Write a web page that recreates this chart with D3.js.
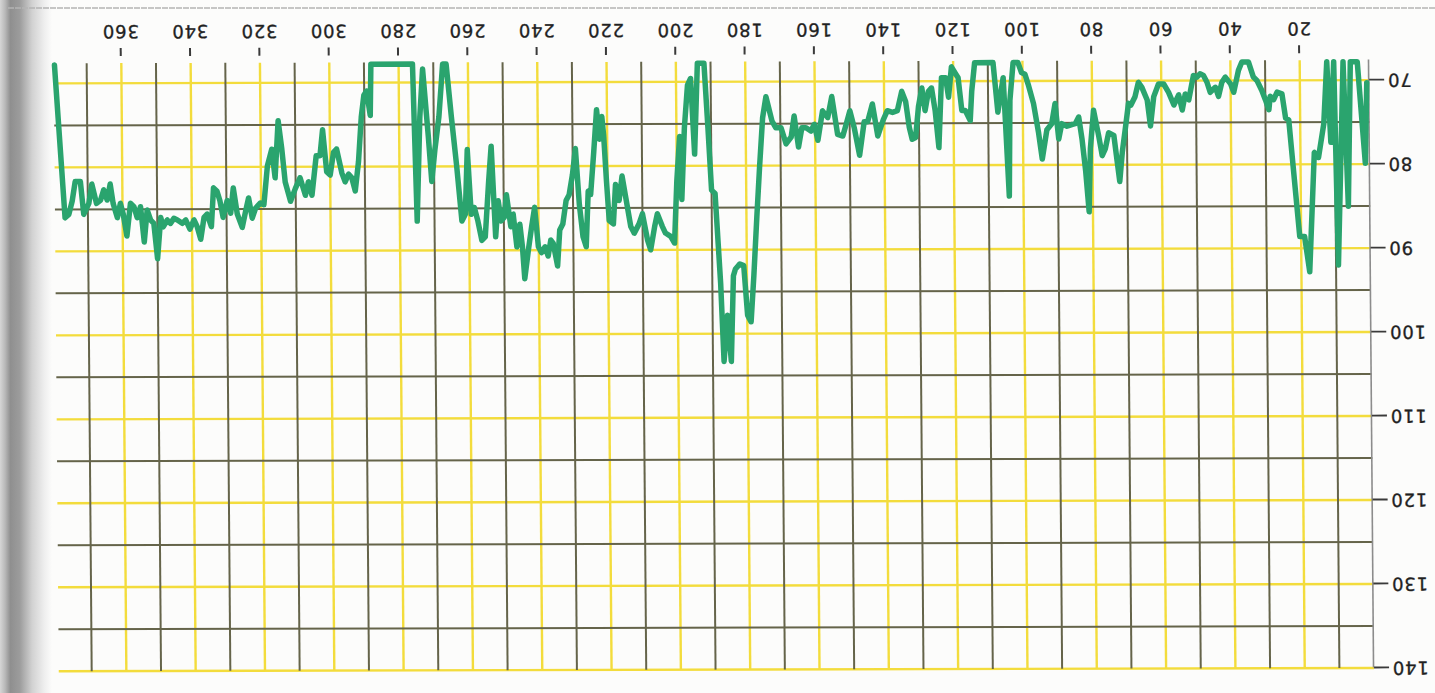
<!DOCTYPE html>
<html>
<head>
<meta charset="utf-8">
<script src="https://cdn.jsdelivr.net/npm/d3@7"></script>
<style>
html,body{margin:0;padding:0;background:#fcfcfb;overflow:hidden}
svg{display:block}
</style>
</head>
<body>
<svg id="chart" width="1435" height="693"></svg>
<script>
// ---- data (read from the scanned, upside-down chart) ----
const days = [0.7,1.3,3.4,5.4,6.3,7.5,9.3,10.2,11.2,12.2,13.2,14.8,16.0,17.6,19.0,20.4,23.3,24.2,25.2,26.6,27.6,28.6,29.0,30.0,31.0,32.4,33.4,34.8,36.7,37.7,39.1,40.0,41.5,42.5,43.5,44.4,45.9,46.8,47.8,48.8,49.7,50.7,52.1,53.1,54.0,55.0,56.4,57.9,59.3,60.8,62.2,63.2,64.1,65.6,66.6,67.6,68.8,69.5,70.5,71.4,72.2,72.9,73.8,75.3,76.3,77.2,78.2,79.6,80.6,81.1,82.0,83.0,83.9,84.9,85.9,87.3,88.8,89.7,90.7,91.7,93.1,94.5,95.5,96.9,98.4,99.3,100.3,101.3,102.7,103.7,104.1,105.1,105.6,106.5,107.2,108.5,113.8,114.7,115.2,116.6,117.6,118.6,119.5,120.5,121.4,122.2,123.4,124.3,125.3,126.3,127.2,128.2,129.1,130.1,131.0,132.0,132.8,133.8,134.9,136.2,137.6,139.1,140.3,141.9,143.4,144.8,145.8,147.2,148.7,149.9,151.0,152.0,153.5,155.1,156.3,157.8,159.2,160.2,161.2,162.6,163.8,164.8,166.0,166.9,168.4,169.8,171.3,172.4,174.1,175.1,176.1,177.0,178.0,178.9,179.9,180.9,182.0,183.3,183.9,184.7,185.7,186.8,187.6,189.0,190.0,190.9,191.9,193.8,194.8,195.8,196.7,197.7,198.6,199.1,200.0,200.8,201.9,203.4,204.3,205.7,206.5,207.7,208.6,210.0,211.0,212.4,213.4,214.8,215.8,216.7,217.7,218.4,219.6,220.3,221.0,221.5,222.2,223.0,223.9,224.9,225.6,226.3,227.2,228.2,229.2,230.1,231.1,232.0,233.0,233.9,234.6,235.8,236.5,237.3,238.2,239.2,240.1,241.1,242.0,243.0,244.1,244.7,245.4,246.3,247.3,248.0,249.2,249.9,250.8,251.6,252.4,253.5,254.3,255.4,256.4,257.5,258.5,259.4,260.4,261.1,262.1,263.5,264.9,266.3,267.3,268.5,269.7,270.7,271.6,273.1,274.0,275.0,276.0,288.0,288.3,289.3,290.1,290.9,291.8,292.8,293.8,294.7,295.7,296.6,298.1,299.0,300.0,301.0,302.1,302.9,304.0,305.3,306.3,307.2,308.7,310.1,311.5,313.0,313.9,314.9,315.9,316.8,318.1,319.2,320.2,321.6,322.6,323.6,324.5,325.5,326.9,328.0,328.8,329.8,331.0,331.9,332.7,333.7,334.4,335.6,336.5,337.5,338.5,339.4,340.6,341.8,342.8,344.2,345.2,346.2,347.1,348.3,349.0,350.0,351.0,351.9,352.9,353.8,354.8,355.8,356.7,357.7,358.8,359.8,360.6,361.5,362.7,363.5,364.4,365.4,366.3,367.5,368.8,369.7,371.2,372.1,373.6,374.5,375.5,376.6,379.3];
const values = [70.3,79.9,67.8,67.8,85.0,67.8,92.0,67.8,77.4,67.8,75.2,79.2,78.6,92.8,88.6,88.6,74.7,74.5,71.6,71.4,72.3,71.9,73.5,72.3,71.2,70.0,69.6,67.8,67.8,68.8,71.4,70.4,69.6,70.2,71.9,70.8,71.4,70.2,69.4,69.2,69.6,69.4,72.3,71.6,73.5,71.7,72.9,71.4,70.4,70.4,71.9,75.4,72.3,70.8,70.2,71.9,72.9,72.7,75.8,78.5,82.0,79.6,76.5,76.2,78.1,78.9,76.5,73.5,78.1,85.6,80.8,76.9,74.3,75.1,75.2,75.4,75.1,76.9,72.7,75.1,75.8,79.3,76.2,72.7,70.4,69.2,69.0,67.8,67.8,72.3,83.7,74.3,69.6,71.9,73.7,67.8,67.8,71.2,74.7,73.5,73.5,69.6,69.0,68.3,71.9,69.6,69.6,77.9,73.5,70.8,71.2,73.5,70.8,73.0,76.7,76.9,75.5,72.4,71.2,73.5,73.7,73.5,74.6,76.5,72.7,74.8,74.8,78.8,75.5,73.5,75.1,76.5,76.3,71.8,74.3,73.5,77.0,75.1,75.9,75.5,75.5,77.8,74.1,76.6,77.4,75.5,75.5,74.7,71.8,74.3,80.2,86.1,93.1,98.6,97.8,91.9,91.7,92.3,93.1,103.3,97.8,103.3,94.0,83.3,82.9,75.5,67.8,67.8,78.6,69.6,70.4,75.5,84.0,76.5,81.8,89.2,88.4,88.0,87.2,85.7,87.2,90.0,88.8,85.7,86.9,88.0,87.2,83.7,81.2,84.1,82.2,86.9,86.5,81.8,76.4,74.1,76.8,73.3,78.3,83.4,83.0,89.6,88.4,84.5,77.9,81.0,83.4,84.1,86.9,87.6,91.9,89.2,88.8,90.7,89.6,90.3,89.6,84.9,87.2,90.0,93.4,89.6,86.9,89.6,85.7,87.2,83.4,86.1,86.5,84.1,88.4,77.6,81.8,88.4,88.8,86.5,84.9,85.7,78.0,85.7,86.5,79.9,74.1,67.8,67.8,74.1,77.9,81.8,76.4,68.4,74.1,86.5,67.8,67.8,73.9,71.0,71.5,74.1,79.4,82.9,81.3,80.9,81.8,80.8,77.9,78.3,81.0,80.6,75.6,78.7,78.7,83.4,81.8,83.4,81.3,82.6,84.1,81.8,77.9,74.5,81.3,77.9,79.9,84.5,84.3,84.9,86.1,83.7,85.3,87.2,85.6,82.5,85.5,84.0,86.0,84.0,82.9,82.5,87.1,85.6,86.0,88.6,87.1,86.3,87.4,86.3,86.7,86.3,86.1,86.7,86.3,87.1,86.0,90.9,86.7,86.3,85.1,88.9,84.7,86.0,84.7,84.3,88.2,85.6,84.3,86.0,84.3,82.0,83.9,82.7,83.9,84.3,82.0,84.3,85.6,81.7,81.7,84.0,85.6,86.0,67.8];
const xTicks = [20,40,60,80,100,120,140,160,180,200,220,240,260,280,300,320,340,360];
const yTicks = [70,80,90,100,110,120,130,140];
const xMinorGrid = [10,30,50,70,90,110,130,150,170,190,210,230,250,270,290,310,330,350,370];
const yMinorGrid = [75,85,95,105,115,125,135];

const W = 1435, H = 693;
const svg = d3.select("#chart");

// scanned-page backdrop
const defs = svg.append("defs");
const grad = defs.append("linearGradient").attr("id","scanEdge").attr("x1","0").attr("x2","1").attr("y1","0").attr("y2","0");
[[0,"#d6d6d6"],[0.1,"#b8b8b8"],[0.2,"#8f8f8f"],[0.38,"#9c9c9c"],[0.62,"#d2d2d2"],[0.85,"#eeeeee"],[1,"#fcfcfb"]]
  .forEach(([o,c]) => grad.append("stop").attr("offset",o).attr("stop-color",c));
svg.append("rect").attr("width",W).attr("height",H).attr("fill","#fcfcfb");
svg.append("rect").attr("x",0).attr("y",0).attr("width",52).attr("height",H).attr("fill","url(#scanEdge)");
svg.append("line").attr("x1",8).attr("x2",W).attr("y1",8).attr("y2",8)
  .attr("stroke","#b4b4b4").attr("stroke-width",1.5).attr("stroke-dasharray","6 1");

// the page is drawn upright and then turned upside down (as in the scan)
const page = svg.append("g")
  .attr("transform","matrix(1,-0.0025,0.0083,1,-0.5,3.4) rotate(180 717.5 346.5)");

const x = d3.scaleLinear().domain([0,380]).range([66,1383]);
const y = d3.scaleLinear().domain([67.6,140]).range([633,25]);

const FONT = "'DejaVu Sans', Verdana, sans-serif";

// grid: yellow on labelled values, olive in between
const grid = page.append("g");
grid.selectAll(".vy").data(xTicks).join("line")
  .attr("x1",d=>x(d)).attr("x2",d=>x(d)).attr("y1",y(140)).attr("y2",y(67.6))
  .attr("stroke","#f3dc3c").attr("stroke-width",2.4);
grid.selectAll(".hy").data(yTicks).join("line")
  .attr("x1",x(0)).attr("x2",x(379.5)).attr("y1",d=>y(d)).attr("y2",d=>y(d))
  .attr("stroke","#f3dc3c").attr("stroke-width",2.4);
grid.selectAll(".vd").data(xMinorGrid).join("line")
  .attr("x1",d=>x(d)).attr("x2",d=>x(d)).attr("y1",y(140)).attr("y2",y(67.6))
  .attr("stroke","#65644a").attr("stroke-width",2);
grid.selectAll(".hd").data(yMinorGrid).join("line")
  .attr("x1",x(0)).attr("x2",x(379.5)).attr("y1",d=>y(d)).attr("y2",d=>y(d))
  .attr("stroke","#65644a").attr("stroke-width",2);

// y axis
const ya = page.append("g").attr("transform",`translate(${x(0)},0)`)
  .call(d3.axisLeft(y).tickValues(yTicks).tickSize(15).tickSizeOuter(0).tickPadding(3).tickFormat(d3.format("d")));
ya.select(".domain").attr("stroke","#8c8c8c").attr("stroke-width",1.6);
ya.selectAll(".tick line").attr("stroke","#3a3a3a").attr("stroke-width",1.8);
ya.selectAll(".tick text").attr("font-family",FONT).attr("font-size",18).attr("letter-spacing","0.8px")
  .attr("fill","#1f1f1f").attr("stroke","#2a2a2a").attr("stroke-width",0.35);

// x axis (detached ticks, no baseline)
const xa = page.append("g").attr("transform",`translate(0,${y(67.6)+7})`)
  .call(d3.axisBottom(x).tickValues(xTicks).tickSize(8).tickPadding(10).tickFormat(d3.format("d")));
xa.select(".domain").remove();
xa.selectAll(".tick line").attr("stroke","#3a3a3a").attr("stroke-width",2);
xa.selectAll(".tick text").attr("font-family",FONT).attr("font-size",18).attr("letter-spacing","0.8px")
  .attr("fill","#1f1f1f").attr("stroke","#2a2a2a").attr("stroke-width",0.35);

// series
const pts = days.map((d,i)=>({day:d, value:values[i]}));
page.append("path").datum(pts)
  .attr("fill","none").attr("stroke","#2aa46e").attr("stroke-width",5.5)
  .attr("stroke-linejoin","round").attr("stroke-linecap","round")
  .attr("d", d3.line().x(d=>x(d.day)).y(d=>y(d.value)));
</script>
</body>
</html>
